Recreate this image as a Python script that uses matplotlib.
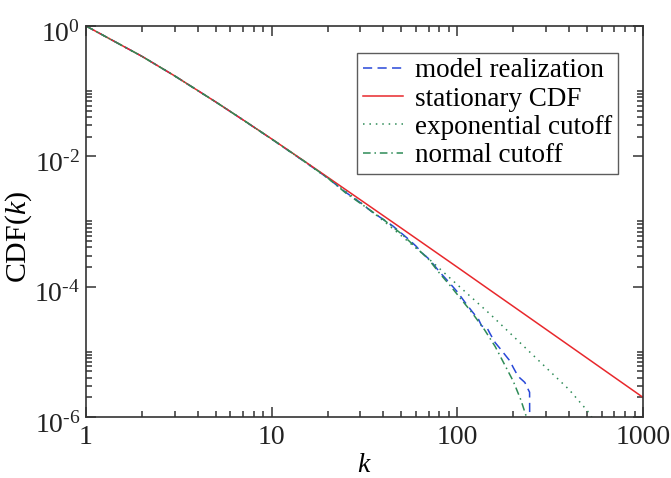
import numpy as np
import matplotlib
matplotlib.use("Agg")
import matplotlib.pyplot as plt
from matplotlib.ticker import FixedLocator, NullFormatter, FixedFormatter
from matplotlib.transforms import ScaledTranslation

plt.rcParams['font.family'] = ['Liberation Serif', 'DejaVu Serif']
plt.rcParams['mathtext.fontset'] = 'custom'
plt.rcParams['mathtext.rm'] = 'Liberation Serif'
plt.rcParams['mathtext.it'] = 'Liberation Serif:italic'

# ---- data ----
k_stat = [1, 2, 3, 5, 7, 10, 15, 20, 30, 50, 70, 100, 150, 200, 300, 500, 700, 1000]
cdf_stat = [1.0, 0.343, 0.172, 0.0683, 0.0364, 0.0185, 0.00843, 0.0048, 0.00216,
            7.88e-4, 4.04e-4, 1.99e-4, 8.85e-5, 4.99e-5, 2.22e-5, 8.0e-6, 4.08e-6, 2.0e-6]

k_exp = [1, 2, 3, 5, 7, 10, 15, 20, 30, 40, 50, 70, 100, 150, 200, 300, 400, 500, 520, 540]
log_cdf_exp = [0, -0.465, -0.765, -1.166, -1.44, -1.735, -2.08, -2.335, -2.705, -2.99,
               -3.22, -3.57, -3.97, -4.42, -4.76, -5.24, -5.58, -5.90, -5.97, -6.04]

k_norm = [1, 2, 3, 5, 7, 10, 15, 20, 25, 30, 40, 50, 60, 70, 80, 90, 100, 120, 140,
          160, 180, 200, 220, 240, 250]
log_cdf_norm = [0, -0.465, -0.765, -1.166, -1.439, -1.734, -2.076, -2.33, -2.56, -2.72,
                -2.97, -3.19, -3.40, -3.58, -3.79, -3.96, -4.12, -4.40, -4.66,
                -4.92, -5.20, -5.45, -5.74, -6.07, -6.25]

k_model = [1, 2, 3, 5, 7, 10, 15, 20, 25, 30, 35, 40, 45, 50, 55, 60, 65, 70, 75, 80,
           90, 100, 110, 120, 130, 135, 145, 150, 160, 170, 180, 192, 200, 210, 217,
           225, 231, 241, 245, 246]
log_cdf_model = [0, -0.465, -0.765, -1.166, -1.44, -1.735, -2.08, -2.33, -2.55, -2.71,
                 -2.86, -2.97, -3.07, -3.18, -3.28, -3.38, -3.49, -3.57, -3.67, -3.77,
                 -3.93, -4.08, -4.24, -4.38, -4.50, -4.60, -4.64, -4.72, -4.86, -4.95,
                 -5.04, -5.14, -5.24, -5.35, -5.40, -5.44, -5.47, -5.58, -5.62, -7.0]

legend_labels = ["model realization", "stationary CDF", "exponential cutoff", "normal cutoff"]

# ---- figure ----
fig = plt.figure(figsize=(6.71, 4.78), dpi=100)
ax = fig.add_axes([86/671, 1-417/478, (643-86)/671, (417-26)/478])

blue = '#2848d8'
red = '#e8282c'
green = '#2e8b57'
lw = 1.1

ax.plot(k_model, 10**np.array(log_cdf_model), color=blue, lw=lw,
        dashes=(6, 3.5), label=legend_labels[0])
ax.plot(k_stat, cdf_stat, color=red, lw=lw, label=legend_labels[1])
ax.plot(k_exp, 10**np.array(log_cdf_exp), color=green, lw=lw,
        dashes=(1, 3.2), label=legend_labels[2])
ax.plot(k_norm, 10**np.array(log_cdf_norm), color=green, lw=lw,
        dashes=(5, 2.5, 1, 2.5), label=legend_labels[3])

ax.set_xscale('log')
ax.set_yscale('log')
ax.set_xlim(1, 1000)
ax.set_ylim(1e-6, 1)

xmaj = [1, 10, 100, 1000]
ax.xaxis.set_major_locator(FixedLocator(xmaj))
ax.xaxis.set_major_formatter(FixedFormatter(['1', '10', '100', '1000']))
xmin = [m * d for d in (1, 10, 100) for m in range(2, 10)]
ax.xaxis.set_minor_locator(FixedLocator(xmin))
ax.xaxis.set_minor_formatter(NullFormatter())

ymaj = [1e-6, 1e-4, 1e-2, 1]
ax.yaxis.set_major_locator(FixedLocator(ymaj))
ax.yaxis.set_major_formatter(FixedFormatter([r'$10^{\text{-}6}$', r'$10^{\text{-}4}$',
                                             r'$10^{\text{-}2}$', r'$10^{0}$']))
ymin = [m * d for d in (1e-6, 1e-4, 1e-2) for m in range(2, 11)]
ax.yaxis.set_minor_locator(FixedLocator(ymin))
ax.yaxis.set_minor_formatter(NullFormatter())

ax.tick_params(which='both', direction='in', top=True, right=True, width=1.1,
               colors='#333333', labelcolor='#222222')
ax.tick_params(axis='y', which='major', length=7.5, labelsize=20, pad=4)
ax.tick_params(axis='x', which='major', length=7.5, labelsize=20, pad=6)
ax.tick_params(which='minor', length=4.2)
for s in ax.spines.values():
    s.set_linewidth(1.2)
    s.set_color('#333333')

off = ScaledTranslation(0, -5/100, fig.dpi_scale_trans)
for lab in ax.get_yticklabels():
    lab.set_transform(lab.get_transform() + off)

ax.set_xlabel(r'$k$', fontsize=20)
ax.xaxis.set_label_coords(0.5, (417-453)/391)
ax.set_ylabel(r'CDF($k$)', fontsize=21.5)
ax.yaxis.set_label_coords((34-86)/557, (417-237)/391)

leg = ax.legend(loc='upper right', bbox_to_anchor=((618-86)/557, 1 - (53-26)/391),
                bbox_transform=ax.transAxes, fontsize=19.5, frameon=True, fancybox=False,
                handlelength=1.5, handletextpad=0.45, labelspacing=0.12,
                borderpad=0.2, borderaxespad=0)
leg.get_frame().set_edgecolor('#333333')
leg.get_frame().set_linewidth(1.0)

fig.savefig('out.png', dpi=100)
